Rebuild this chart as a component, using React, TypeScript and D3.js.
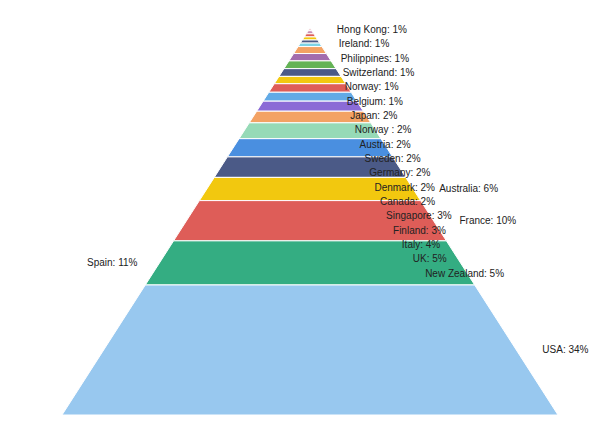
import React from "react";
import * as d3 from "d3";

// Pyramid order: top (smallest) to bottom (largest)
const countries = [
  "Hong Kong", "Ireland", "Philippines", "Switzerland", "Norway", "Belgium",
  "Japan", "Norway ", "Austria", "Sweden", "Germany", "Denmark", "Canada",
  "Singapore", "Finland", "Italy", "UK", "New Zealand", "Australia", "France",
  "Spain", "USA",
];
const shares = [
  0.7, 0.8, 0.8, 0.8, 0.8, 0.9,
  1.8, 1.9, 2.0, 2.0, 1.9, 2.2, 2.3,
  2.6, 3.0, 4.1, 4.7, 5.3, 6.0, 10.4,
  11.4, 33.6,
];
const palette = [
  "#e6a3ab", "#c98fb4", "#de5d58", "#f2c80f", "#4b5a87", "#7dd3e6",
  "#f3a264", "#a36cae", "#64b356", "#4b5a87", "#f2c80f", "#de5d58", "#62aae6",
  "#8b6bd6", "#f3a264", "#96dab7", "#4a8fe0", "#4b5a87", "#f2c80f", "#de5d58",
  "#34ad82", "#98c8ef",
];
const leftLabels = ["Spain"];

const W = 615;
const H = 441;
const apexY = 28;
const baseY = 415;
const cx = 310;
const halfBase = 248;
const labelGap = 26;
const labelStep = 14.35;
const stackThreshold = 5.5;

export default function App() {
  const total = d3.sum(shares);
  const cum = d3.cumsum(shares);
  const y = d3.scaleLinear().domain([0, total]).range([apexY, baseY]);
  const half = d3.scaleLinear().domain([apexY, baseY]).range([0, halfBase]);

  const segs = countries.map((name, i) => {
    const v0 = cum[i] - shares[i];
    const v1 = cum[i];
    const y0 = y(v0);
    const y1 = y(v1);
    const yc = y(v0 + shares[i] / 2);
    return { name, value: shares[i], y0, y1, yc, color: palette[i] };
  });

  // label layout
  let prev = -Infinity;
  const labels = segs.map((s) => {
    const pct = Math.round((s.value / total) * 100);
    const text = `${s.name}: ${pct}%`;
    if (leftLabels.includes(s.name)) {
      return { text, x: cx - half(s.yc) - 22, y: s.yc, anchor: "end" };
    }
    let ly = s.yc;
    if (s.value < stackThreshold) {
      ly = Math.max(s.yc, prev + labelStep);
      prev = ly;
    }
    return { text, x: cx + half(s.yc) + labelGap, y: ly, anchor: "start" };
  });

  const line = d3.line();

  return (
    <svg
      width={W}
      height={H}
      style={{ position: "absolute", left: 0, top: 0, background: "#fff" }}
    >
      <g>
        {segs.map((s, i) => {
          const pts: [number, number][] = [
            [cx - half(s.y0), s.y0],
            [cx + half(s.y0), s.y0],
            [cx + half(s.y1), s.y1],
            [cx - half(s.y1), s.y1],
          ];
          return (
            <path
              key={i}
              d={line(pts) + "Z"}
              fill={s.color}
              stroke="#fff"
              strokeWidth={1}
            />
          );
        })}
      </g>
      <g
        style={{ fontFamily: "'Liberation Sans', Arial, sans-serif", fontSize: 10 }}
        fill="#222"
      >
        {labels.map((l, i) => (
          <text key={i} x={l.x} y={l.y} dy="0.35em" textAnchor={l.anchor}>
            {l.text}
          </text>
        ))}
      </g>
    </svg>
  );
}
